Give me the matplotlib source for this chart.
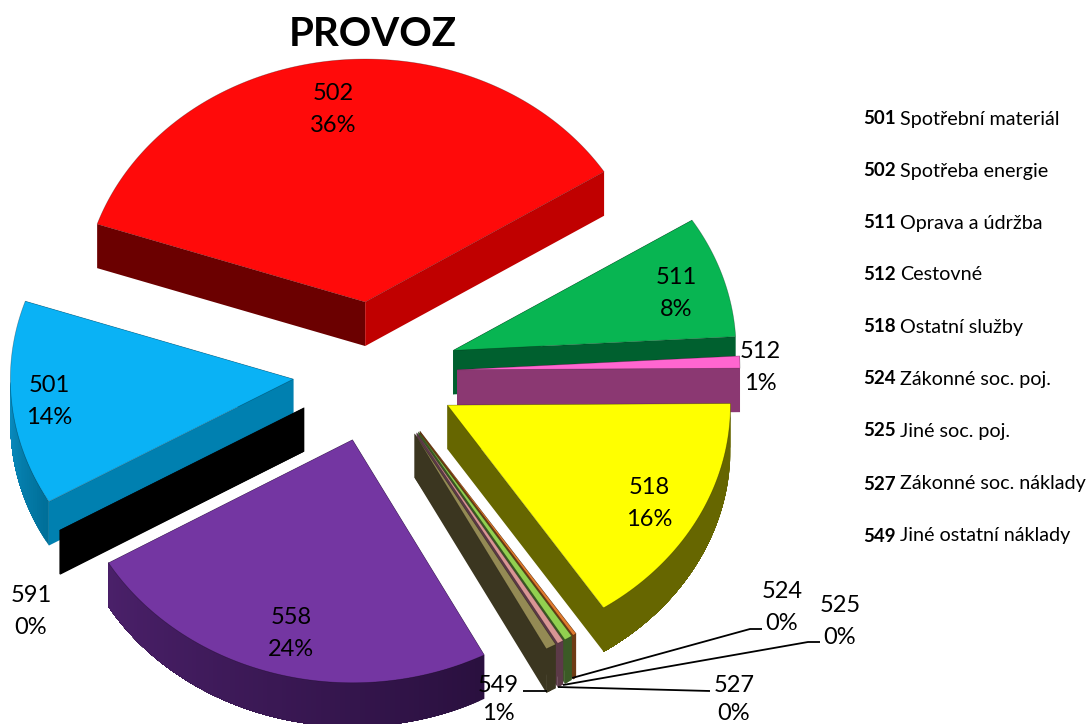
import numpy as np
import matplotlib
matplotlib.use("Agg")
import matplotlib.pyplot as plt
from matplotlib.colors import to_rgb
from matplotlib.patches import Polygon

plt.rcParams['font.family'] = ['Lato', 'DejaVu Sans']

codes = ['501', '502', '511', '512', '518', '524', '525', '527', '549', '558', '591']
values = [13.6, 35.8, 8.1, 0.8, 15.8, 0.2, 0.45, 0.35, 0.6, 24.25, 0.05]

legend_codes = ['501', '502', '511', '512', '518', '524', '525', '527', '549']
legend_names = ['Spotřební materiál', 'Spotřeba energie', 'Oprava a údržba', 'Cestovné',
                'Ostatní služby', 'Zákonné soc. poj.', 'Jiné soc. poj.',
                'Zákonné soc. náklady', 'Jiné ostatní náklady']

# pie geometry, in pixels
CX, CY = 375, 372
RX, RY = 283, 243
DEPTH = 44
EXPLODE = 0.29
START = 210.26

# top, first radial wall, second radial wall, arc wall at start, arc wall at end
styles = {
    '501': ('#0ab2f5', '#0080b0', '#0080b0', '#006f98', '#0a8ec2'),
    '502': ('#ff0a0a', '#6b0000', '#c00000', '#c00000', '#c00000'),
    '511': ('#08b552', '#00602f', '#00602f', '#00602f', '#00602f'),
    '512': ('#ff66d0', '#8b3872', '#8b3872', '#8b3872', '#8b3872'),
    '518': ('#ffff00', '#666600', '#666600', '#666600', '#666600'),
    '524': ('#e07b2e', '#6e3c14', '#6e3c14', '#6e3c14', '#6e3c14'),
    '525': ('#92d050', '#3b5a25', '#3b5a25', '#3b5a25', '#3b5a25'),
    '527': ('#d99694', '#5c3a48', '#5c3a48', '#5c3a48', '#5c3a48'),
    '549': ('#948a54', '#3b3620', '#3b3620', '#3b3620', '#3b3620'),
    '558': ('#7436a2', '#4a2069', '#4a2069', '#2a103f', '#4a2069'),
    '591': ('#000000', '#000000', '#000000', '#000000', '#000000'),
}
draw_order = ['502', '501', '511', '512', '591', '518', '524', '525', '527', '549', '558']

# where the two lines of each data label sit
label_pos = {
    '501': (49, 386, 418), '502': (333, 94, 125), '511': (676, 278, 310),
    '512': (760, 351, 383), '518': (649, 487, 519), '524': (782, 591, 623),
    '525': (840, 606, 638), '527': (734, 685, 714), '549': (498, 685, 714),
    '558': (291, 617, 649), '591': (31, 596, 628),
}
leaders = [
    [(572, 678), (750, 629), (762, 629)],
    [(563, 685), (808, 642), (820, 642)],
    [(558, 687), (710, 691)],
    [(523, 691), (547, 691)],
]
legend_ys = [119, 171, 223, 275, 327, 379, 431, 484, 536]


def slice_angles():
    total = sum(values)
    angles = {}
    theta = START
    for code, v in zip(codes, values):
        angles[code] = (theta, theta - v / total * 360)
        theta = angles[code][1]
    return angles


def rim(apex, deg):
    t = np.radians(deg)
    return apex[0] + RX * np.cos(t), apex[1] - RY * np.sin(t)


def down(p):
    return p[0], p[1] + DEPTH


def add_poly(ax, pts, color, edge=None, lw=0.0):
    ax.add_patch(Polygon(pts, closed=True, facecolor=color,
                         edgecolor=edge if edge else 'none', linewidth=lw))


def draw_slice(ax, code, a1, a2):
    top, wall1, wall2, arc1, arc2 = styles[code]
    mid = np.radians((a1 + a2) / 2)
    apex = (CX + EXPLODE * RX * np.cos(mid), CY - EXPLODE * RY * np.sin(mid))
    p1 = rim(apex, a1)
    p2 = rim(apex, a2)

    add_poly(ax, [apex, p1, down(p1), down(apex)], wall1)
    add_poly(ax, [apex, p2, down(p2), down(apex)], wall2)

    # outer wall, only the part facing the viewer. Each piece runs on to the
    # end of the arc and the next one paints over it, so there are no seams
    steps = np.linspace(a1, a2, max(int(abs(a1 - a2)), 2) + 1)
    steps = steps[np.sin(np.radians(steps)) < 0.001]
    c1, c2 = np.array(to_rgb(arc1)), np.array(to_rgb(arc2))
    for i in range(len(steps) - 1):
        f = i / max(len(steps) - 2, 1)
        col = tuple(c1 + (c2 - c1) * f)
        rest = [rim(apex, d) for d in steps[i:]]
        add_poly(ax, rest + [down(p) for p in reversed(rest)], col)

    arc = [rim(apex, d) for d in np.linspace(a1, a2, max(int(abs(a1 - a2)) * 2, 2) + 1)]
    add_poly(ax, [apex] + arc, top, edge='#0000004d', lw=0.5)


def main():
    fig = plt.figure(figsize=(10.87, 7.24), dpi=100)
    ax = fig.add_axes([0, 0, 1, 1])
    ax.set_xlim(0, 1087)
    ax.set_ylim(724, 0)
    ax.axis('off')

    angles = slice_angles()
    for code in draw_order:
        draw_slice(ax, code, *angles[code])

    for pts in leaders:
        xs, ys = zip(*pts)
        ax.plot(xs, ys, color='black', linewidth=1.3, solid_capstyle='butt')

    for code, v in zip(codes, values):
        x, y1, y2 = label_pos[code]
        ax.text(x, y1, code, ha='center', va='center', fontsize=17)
        ax.text(x, y2, '%.0f%%' % v, ha='center', va='center', fontsize=17)

    ax.text(373, 34, 'PROVOZ', ha='center', va='center', fontsize=29, fontweight='bold')

    for code, name, y in zip(legend_codes, legend_names, legend_ys):
        ax.text(863, y, code, ha='left', va='center', fontsize=13.5, fontweight='bold')
        ax.text(900, y, name, ha='left', va='center', fontsize=14.2)

    fig.savefig('out.png', dpi=100)


if __name__ == '__main__':
    main()
